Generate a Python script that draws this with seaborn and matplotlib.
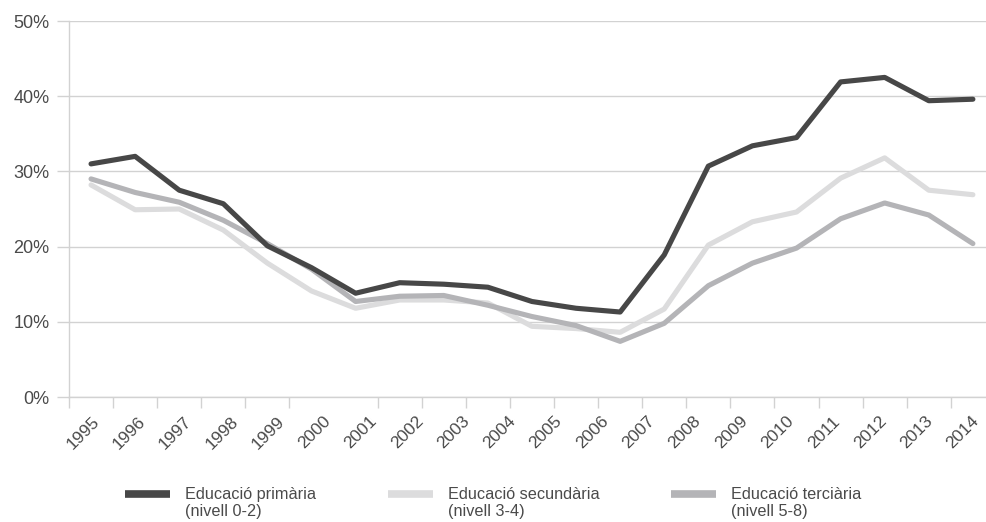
import numpy as np
import pandas as pd
import seaborn as sns
import matplotlib.pyplot as plt
from matplotlib.lines import Line2D
from matplotlib.legend_handler import HandlerLine2D
from matplotlib.ticker import FuncFormatter

# DATA (21 points in the source, 20 year labels)
year_labels = [str(y) for y in range(1995, 2015)]
primaria = [31.0, 32.0, 27.5, 25.7, 20.1, 17.2, 13.8, 15.2, 15.0, 14.6, 12.7,
            11.8, 11.3, 18.9, 30.7, 33.4, 34.5, 41.9, 42.5, 39.4, 39.6]
secundaria = [28.2, 24.9, 25.0, 22.2, 17.8, 14.1, 11.8, 12.9, 12.9, 12.5, 9.4,
              9.1, 8.6, 11.7, 20.2, 23.3, 24.6, 29.1, 31.8, 27.5, 26.9]
terciaria = [29.0, 27.2, 25.9, 23.5, 20.4, 17.0, 12.7, 13.4, 13.5, 12.2, 10.7,
             9.5, 7.4, 9.8, 14.8, 17.8, 19.8, 23.7, 25.8, 24.2, 20.4]

series_names = ['Educació primària\n(nivell 0-2)',
                'Educació secundària\n(nivell 3-4)',
                'Educació terciària\n(nivell 5-8)']
series_colors = ['#474747', '#dcdcdd', '#b4b4b7']
TEXT_COLOR = '#4a4a4a'
LINE_GREY = '#d2d2d2'

n = len(primaria)
df = pd.DataFrame({
    'punt': np.tile(np.arange(n), 3),
    'valor': primaria + secundaria + terciaria,
    'serie': np.repeat(series_names, n),
})


class FirstLineHandler(HandlerLine2D):
    """ Puts the legend line next to the first line of a two-line label """

    def create_artists(self, legend, orig_handle, xdescent, ydescent,
                       width, height, fontsize, trans):
        artists = super().create_artists(legend, orig_handle, xdescent, ydescent,
                                         width, height, fontsize, trans)
        for a in artists:
            a.set_ydata(np.asarray(a.get_ydata()) + 0.58 * fontsize)
        return artists


sns.set_theme(style='white')
plt.rcParams['font.family'] = ['Liberation Sans', 'DejaVu Sans']

fig = plt.figure(figsize=(9.87, 5.22), dpi=100)
ax = fig.add_axes([69 / 987, 1 - 397 / 522, 1 - 69 / 987, (397 - 21) / 522])

# draw order: lightest first, darkest on top
sns.lineplot(data=df, x='punt', y='valor', hue='serie',
             hue_order=[series_names[1], series_names[2], series_names[0]],
             palette=dict(zip(series_names, series_colors)),
             linewidth=3.7, legend=False, ax=ax)

ax.set_xlim(-0.5, 20.32)
ax.set_ylim(0, 50)
ax.set_xlabel('')
ax.set_ylabel('')

ax.set_yticks(np.arange(0, 51, 10))
ax.yaxis.set_major_formatter(FuncFormatter(lambda v, p: f'{v:.0f}%'))
ax.grid(axis='y', color=LINE_GREY, linewidth=1.0)
ax.set_axisbelow(True)

ax.set_xticks(np.arange(-0.5, n - 0.5), minor=True)
ax.set_xticks(np.linspace(0.25, 20.2, len(year_labels)), labels=year_labels,
              rotation=45, ha='right')

ax.tick_params(axis='y', length=9, width=1.0, color=LINE_GREY, pad=5,
               labelsize=13, labelcolor=TEXT_COLOR, left=True)
ax.tick_params(axis='x', which='major', length=0, pad=12,
               labelsize=12.5, labelcolor=TEXT_COLOR)
ax.tick_params(axis='x', which='minor', length=8, width=1.0,
               color=LINE_GREY, bottom=True)

for side in ['top', 'right']:
    ax.spines[side].set_visible(False)
for side in ['left', 'bottom']:
    ax.spines[side].set_color(LINE_GREY)
    ax.spines[side].set_linewidth(1.0)

handles = [Line2D([], [], color=c, linewidth=5.5, solid_capstyle='butt')
           for c in series_colors]
leg = fig.legend(handles, series_names, loc='upper center',
                 bbox_to_anchor=(0.5, 1 - 476 / 522), ncol=3, frameon=False,
                 fontsize=11.7, labelcolor=TEXT_COLOR, handlelength=2.75,
                 handletextpad=0.95, columnspacing=4.4, borderpad=0.2,
                 handler_map={Line2D: FirstLineHandler()})
for t in leg.get_texts():
    t.set_linespacing(1.1)

fig.savefig('out.png', dpi=100)
